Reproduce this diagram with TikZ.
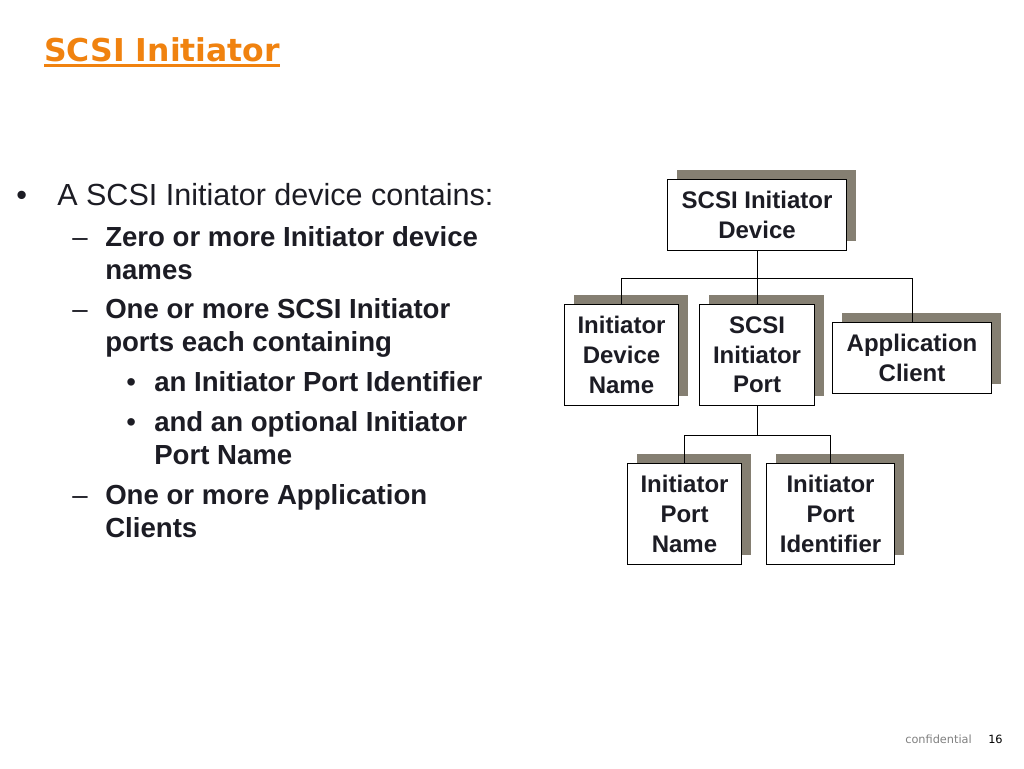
\documentclass[tikz,border=0pt]{standalone}
\usepackage{fontspec}
\setmainfont{Liberation Sans}
\newfontfamily\titlefont{DejaVu Sans}
\usetikzlibrary{shadows}
\definecolor{titleorange}{HTML}{F0820F}
\definecolor{shadowgrey}{HTML}{857F72}
\definecolor{bodyblack}{HTML}{1C1C24}
\begin{document}
\begin{tikzpicture}[x=0.75pt,y=-0.75pt,
	box/.style = {draw=black,fill=white,line width=0.75pt,inner sep=0pt,align=center,text=bodyblack,
		font=\fontsize{18}{22.2}\selectfont\bfseries,
		general shadow={fill=shadowgrey,shadow xshift=7pt,shadow yshift=7pt}},
	lead/.style = {anchor=base west,inner sep=0pt,text=bodyblack,font=\fontsize{22.9}{27}\selectfont},
	item/.style = {anchor=base west,inner sep=0pt,text=bodyblack,align=left,font=\fontsize{20.7}{24.75}\selectfont\bfseries},
	listmark/.style = {anchor=base west,inner sep=0pt,text=bodyblack,font=\fontsize{20.7}{24.75}\selectfont},
	link/.style = {draw=black,line width=0.75pt}
	]
	\useasboundingbox (0,0) rectangle (1024,768);
	%TITLE
	\node [anchor=base west,inner sep=0pt,text=titleorange,font=\titlefont\fontsize{23.6}{28}\selectfont\bfseries] (title) at (44,61) {SCSI Initiator};
	\draw [titleorange,line width=2.2pt] ([yshift=-3.2pt]title.base west) -- ([yshift=-3.2pt]title.base east);
	%LIST
	\node [lead] (bulletA) at (16,205) {\textbullet};
	\node [lead] (leadA) at (57,205) {A SCSI Initiator device contains:};
	\node [listmark] (dashA) at (72,246) {--};
	\node [item] (itemA) at (105,279) {Zero or more Initiator device\\names};
	\node [listmark] (dashB) at (72,318) {--};
	\node [item] (itemB) at (105,351) {One or more SCSI Initiator\\ports each containing};
	\node [listmark] (dotA) at (126,391) {\textbullet};
	\node [item] (subA) at (154,391) {an Initiator Port Identifier};
	\node [listmark] (dotB) at (126,431) {\textbullet};
	\node [item] (subB) at (154,464) {and an optional Initiator\\Port Name};
	\node [listmark] (dashC) at (72,504) {--};
	\node [item] (itemC) at (105,537) {One or more Application\\Clients};
	%BOXES
	\node [box,minimum width=134.25pt,minimum height=53.25pt] (device) at (757,215) {SCSI Initiator\\Device};
	\node [box,minimum width=85.5pt,minimum height=75.75pt] (devname) at (621.5,355) {Initiator\\Device\\Name};
	\node [box,minimum width=86.25pt,minimum height=75.75pt] (port) at (757,355) {SCSI\\Initiator\\Port};
	\node [box,minimum width=119.25pt,minimum height=53.25pt] (client) at (912,358) {Application\\Client};
	\node [box,minimum width=85.5pt,minimum height=75.75pt] (portname) at (684.5,514) {Initiator\\Port\\Name};
	\node [box,minimum width=96pt,minimum height=75.75pt] (portid) at (830.5,514) {Initiator\\Port\\Identifier};
	%CONNECTIONS
	\coordinate (busA) at (757,278.5);
	\coordinate (busB) at (757,435.5);
	\draw [link] (device.south) -- (port.north);
	\draw [link] (busA) -| (devname.north);
	\draw [link] (busA) -| (client.north);
	\draw [link] (port.south) -- (busB);
	\draw [link] (busB) -| (portname.north);
	\draw [link] (busB) -| (portid.north);
	%FOOTER
	\node [anchor=base west,inner sep=0pt,text=black!50,font=\titlefont\fontsize{8.5}{10}\selectfont] (conf) at (905,743) {confidential};
	\node [anchor=base west,inner sep=0pt,text=black,font=\titlefont\fontsize{8.5}{10}\selectfont] (page) at (988,743) {16};
\end{tikzpicture}
\end{document}
